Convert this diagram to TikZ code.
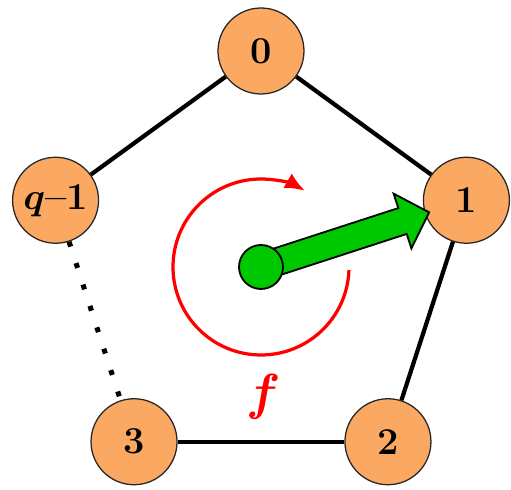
\documentclass[tikz,border=0pt]{standalone}
\usepackage{amsmath}
\usetikzlibrary{arrows.meta}
\definecolor{nodeorange}{RGB}{250,168,98}
\definecolor{spingreen}{RGB}{0,200,0}

\begin{document}
\begin{tikzpicture}[
  vtx/.style={circle,draw=black!85,line width=0.9pt,fill=nodeorange,minimum size=2.15cm,
              inner sep=0pt,font=\fontsize{27}{32}\selectfont\bfseries\boldmath},
  hub/.style={circle,draw=black,line width=1.3pt,fill=spingreen,minimum size=1.1cm,inner sep=0pt},
  edge/.style={line width=3pt},
  gap/.style={line width=3.6pt,dash pattern=on 3.6pt off 12.4pt},
  turn/.style={red,line width=2.3pt,-{Latex[length=0.5cm,width=0.42cm]}}]
  \useasboundingbox (-6.525,-5.575) rectangle (6.25,6.675);
  \coordinate (o) at (0,0);
  \node[vtx] (v0) at (90:5.4) {0};
  \node[vtx] (v1) at (18:5.4) {1};
  \node[vtx] (v2) at (-54:5.4) {2};
  \node[vtx] (v3) at (-126:5.4) {3};
  \node[vtx] (vq) at (162:5.4) {\scalebox{1.08}{$q$}--1};
  \draw[edge](vq)--(v0); \draw[edge](v0)--(v1);
  \draw[edge](v1)--(v2); \draw[edge](v2)--(v3);
  \draw[gap](vq)--(v3);
  % rotation f
  \draw[turn](o) ++(-2:2.2) arc[start angle=-2,end angle=-300,radius=2.2];
  \node[text=red,font=\fontsize{24.88}{30}\selectfont\boldmath] (lbl) at (0.07,-3.25) {\scalebox{1.45}{$f$}};
  % pointer towards 1
  \filldraw[fill=spingreen,draw=black,line width=1.3pt,shift={(o)},rotate=18]
    (0,0.34)--(3.72,0.34)--(3.72,0.72)--(4.42,0)--(3.72,-0.72)--(3.72,-0.34)--(0,-0.34)--cycle;
  \node[hub] (ctr) at (o) {};
\end{tikzpicture}
\end{document}
